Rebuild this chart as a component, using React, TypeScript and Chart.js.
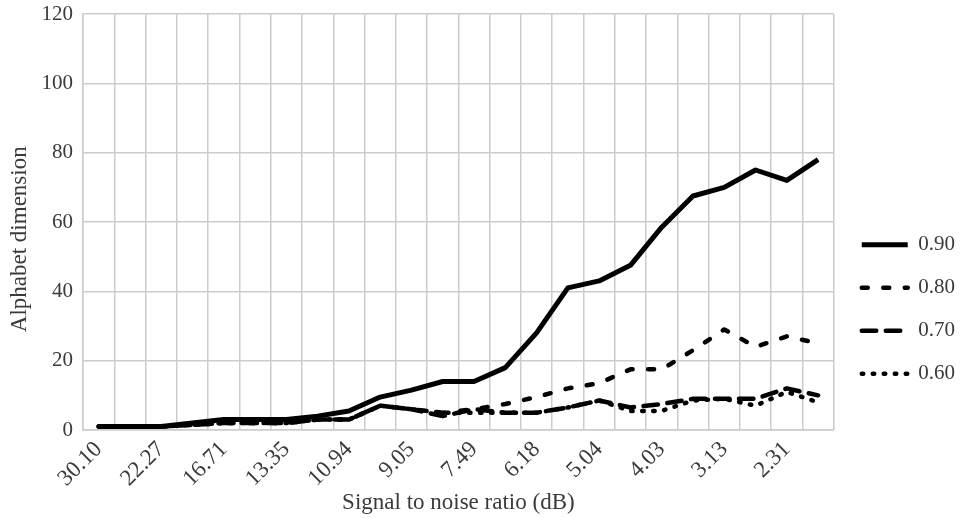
import React, { useEffect, useRef } from 'react';
import { Chart, registerables } from 'chart.js';

Chart.register(...registerables);

// Signal to noise ratio (dB) categories; only every other one is labelled in the figure
const snrLabels = ['30.10', '25.78', '22.27', '19.20', '16.71', '14.86', '13.35', '12.04', '10.94', '9.94', '9.05', '8.22', '7.49', '6.79', '6.18', '5.58', '5.04', '4.51', '4.03', '3.56', '3.13', '2.71', '2.31', '1.94'];
const seriesNames = ['0.90', '0.80', '0.70', '0.60'];
const series090 = [1, 1, 1, 2, 3, 3, 3, 4, 5.5, 9.5, 11.5, 14, 14, 18, 28, 41, 43, 47.5, 58.5, 67.5, 70, 75, 72, 78];
const series080 = [1, 1, 1, 1.5, 2, 2, 2, 3, 3, 7, 6, 5, 6, 7.5, 9.5, 12, 13.5, 17.5, 17.5, 23, 29, 24, 27, 25];
const series070 = [1, 1, 1, 1.5, 2, 2, 2, 3, 3, 7, 6, 4, 6, 5, 5, 6.5, 8.5, 6.5, 7.5, 9, 9, 9, 12, 10];
const series060 = [1, 1, 1, 1.5, 2, 2, 2, 3, 3, 7, 6, 5, 5, 5, 5, 6.5, 8.5, 5.5, 5.5, 8.5, 9, 7, 11, 8];
const yTicks = { min: 0, max: 120, step: 20 };

const FONT = "'Liberation Serif', 'Times New Roman', serif";
const TEXT = '#3a3a3a';
const GRID = '#cccccc';

const legendShift = {
  id: 'legendShift',
  afterLayout(chart: any) {
    if (chart.legend) {
      chart.legend.left += 6;
      chart.legend.right += 6;
    }
  },
};

export default function App() {
  const ref = useRef<HTMLCanvasElement | null>(null);

  useEffect(() => {
    if (!ref.current) return;
    const common = {
      fill: false,
      tension: 0,
      pointRadius: 0,
      pointHoverRadius: 0,
      borderColor: '#000000',
      backgroundColor: '#000000',
      borderWidth: 4.5,
      borderCapStyle: 'round' as const,
      borderJoinStyle: 'round' as const,
    };
    const chart = new Chart(ref.current, {
      type: 'line',
      data: {
        labels: snrLabels,
        datasets: [
          { ...common, label: seriesNames[0], data: series090, borderWidth: 5, borderCapStyle: 'butt' as const },
          { ...common, label: seriesNames[1], data: series080, borderDash: [6, 15.5] },
          { ...common, label: seriesNames[2], data: series070, borderDash: [14.5, 9.5] },
          { ...common, label: seriesNames[3], data: series060, borderDash: [1.5, 9.5] },
        ],
      },
      plugins: [legendShift],
      options: {
        animation: false,
        responsive: true,
        maintainAspectRatio: false,
        layout: { padding: { top: 0, right: 11, bottom: 0, left: 0 } },
        plugins: {
          tooltip: { enabled: false },
          legend: {
            position: 'right',
            align: 'center',
            title: { display: true, text: '', font: { size: 12 }, padding: { top: 86, bottom: 0 } },
            labels: {
              usePointStyle: true,
              pointStyle: 'line',
              pointStyleWidth: 46,
              boxHeight: 21,
              padding: 22,
              color: TEXT,
              font: { family: FONT, size: 21 },
              generateLabels: (c: any) => {
                const items = Chart.defaults.plugins.legend.labels.generateLabels(c);
                return items.map((it: any) => {
                  const ds: any = c.data.datasets[it.datasetIndex];
                  return {
                    ...it,
                    pointStyle: 'line',
                    lineDash: ds.borderDash || [],
                    lineCap: ds.borderCapStyle || 'butt',
                    lineWidth: ds.borderWidth,
                    strokeStyle: ds.borderColor,
                  };
                });
              },
            },
          },
        },
        scales: {
          x: {
            type: 'category',
            offset: true,
            grid: { offset: true, color: GRID, lineWidth: 1.5, drawTicks: false },
            border: { color: GRID, width: 1.5 },
            ticks: {
              autoSkip: false,
              minRotation: 45,
              maxRotation: 45,
              padding: 6,
              color: TEXT,
              font: { family: FONT, size: 23 },
              callback: (_v: any, i: number) => (i % 2 === 0 ? snrLabels[i] : ''),
            },
            title: {
              display: true,
              text: 'Signal to noise ratio (dB)',
              color: TEXT,
              font: { family: FONT, size: 23 },
              padding: { top: 0, bottom: 1 },
            },
            afterFit: (scale: any) => { scale.height = 88; },
          },
          y: {
            min: yTicks.min,
            max: yTicks.max,
            grid: { color: GRID, lineWidth: 1.5, drawTicks: false },
            border: { color: GRID, width: 1.5 },
            ticks: {
              stepSize: yTicks.step,
              padding: 10,
              color: TEXT,
              font: { family: FONT, size: 21 },
            },
            title: {
              display: true,
              text: 'Alphabet dimension      ',
              color: TEXT,
              font: { family: FONT, size: 23 },
              padding: { top: 6, bottom: 0 },
            },
            afterFit: (scale: any) => {
              scale.width = 83;
              scale.paddingTop = 14;
            },
          },
        },
      },
    });
    return () => chart.destroy();
  }, []);

  return (
    <div style={{ position: 'absolute', left: 0, top: 0, width: 970, height: 518, background: '#ffffff' }}>
      <canvas ref={ref} />
    </div>
  );
}
